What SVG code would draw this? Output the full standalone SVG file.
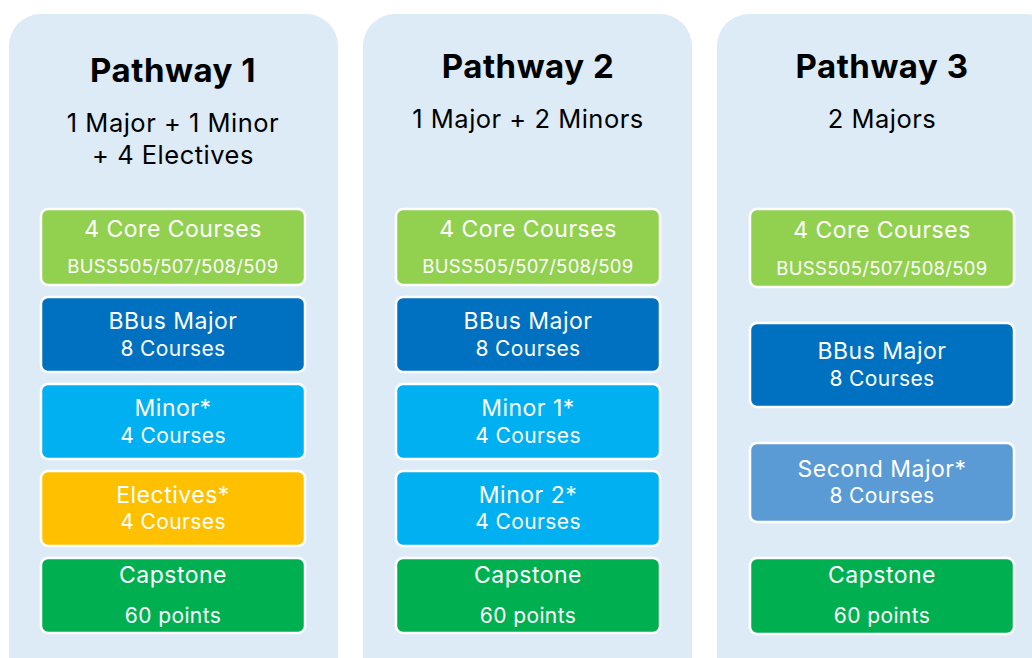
<svg xmlns="http://www.w3.org/2000/svg" width="1032" height="658" viewBox="0 0 1032 658">
<style>
.panel{fill:#DDEBF7}
.box{stroke:#FFFFFF;stroke-width:2.5}
.t{font-family:Inter,"Open Sans","Liberation Sans",sans-serif;text-anchor:middle}
.title{font-size:33px;font-weight:700;fill:#000;letter-spacing:0.5px}
.sub{font-size:25.5px;fill:#000;letter-spacing:0.5px}
.l1{font-size:23px;fill:#FFF;letter-spacing:0.5px}
.l2{font-size:21px;fill:#FFF;letter-spacing:0.4px}
.code{font-size:18.5px;fill:#FFF;letter-spacing:0.3px}
.core{fill:#92D050}.major{fill:#0070C0}.minor{fill:#00B0F0}.elec{fill:#FFC000}.cap{fill:#00B050}.second{fill:#5B9BD5}
</style>
<rect width="1032" height="658" fill="#FFFFFF"/>
<g id="pathway1">
<rect class="panel" x="9" y="14" width="329" height="700" rx="32"/>
<text class="t title" x="173" y="82">Pathway 1</text>
<text class="t sub" x="173" y="132">1 Major + 1 Minor</text>
<text class="t sub" x="173" y="164">+ 4 Electives</text>
</g>
<g id="p1-core"><rect class="box core" x="41" y="209" width="264" height="76" rx="7"/><text class="t l1" x="173" y="237">4 Core Courses</text><text class="t code" x="173" y="273">BUSS505/507/508/509</text></g>
<g id="p1-major"><rect class="box major" x="41" y="297" width="264" height="75" rx="7"/><text class="t l1" x="173" y="329">BBus Major</text><text class="t l2" x="173" y="356">8 Courses</text></g>
<g id="p1-minor"><rect class="box minor" x="41" y="384" width="264" height="75" rx="7"/><text class="t l1" x="173" y="416">Minor*</text><text class="t l2" x="173" y="443">4 Courses</text></g>
<g id="p1-electives"><rect class="box elec" x="41" y="471" width="264" height="75" rx="7"/><text class="t l1" x="173" y="503">Electives*</text><text class="t l2" x="173" y="529">4 Courses</text></g>
<g id="p1-capstone"><rect class="box cap" x="41" y="558" width="264" height="75" rx="7"/><text class="t l1" x="173" y="583">Capstone</text><text class="t l2" x="173" y="623">60 points</text></g>

<g id="pathway2">
<rect class="panel" x="363" y="14" width="329" height="700" rx="32"/>
<text class="t title" x="528" y="78">Pathway 2</text>
<text class="t sub" x="528" y="128">1 Major + 2 Minors</text>
</g>
<g id="p2-core"><rect class="box core" x="396" y="209" width="264" height="76" rx="7"/><text class="t l1" x="528" y="237">4 Core Courses</text><text class="t code" x="528" y="273">BUSS505/507/508/509</text></g>
<g id="p2-major"><rect class="box major" x="396" y="297" width="264" height="75" rx="7"/><text class="t l1" x="528" y="329">BBus Major</text><text class="t l2" x="528" y="356">8 Courses</text></g>
<g id="p2-minor1"><rect class="box minor" x="396" y="384" width="264" height="75" rx="7"/><text class="t l1" x="528" y="416">Minor 1*</text><text class="t l2" x="528" y="443">4 Courses</text></g>
<g id="p2-minor2"><rect class="box minor" x="396" y="471" width="264" height="75" rx="7"/><text class="t l1" x="528" y="503">Minor 2*</text><text class="t l2" x="528" y="529">4 Courses</text></g>
<g id="p2-capstone"><rect class="box cap" x="396" y="558" width="264" height="75" rx="7"/><text class="t l1" x="528" y="583">Capstone</text><text class="t l2" x="528" y="623">60 points</text></g>

<g id="pathway3">
<rect class="panel" x="717" y="14" width="340" height="700" rx="32"/>
<text class="t title" x="882" y="78">Pathway 3</text>
<text class="t sub" x="882" y="128">2 Majors</text>
</g>
<g id="p3-core"><rect class="box core" x="750" y="209" width="264" height="78" rx="7"/><text class="t l1" x="882" y="238">4 Core Courses</text><text class="t code" x="882" y="275">BUSS505/507/508/509</text></g>
<g id="p3-major"><rect class="box major" x="750" y="323" width="264" height="84" rx="7"/><text class="t l1" x="882" y="359">BBus Major</text><text class="t l2" x="882" y="386">8 Courses</text></g>
<g id="p3-second"><rect class="box second" x="750" y="443" width="264" height="79" rx="7"/><text class="t l1" x="882" y="477">Second Major*</text><text class="t l2" x="882" y="503">8 Courses</text></g>
<g id="p3-capstone"><rect class="box cap" x="750" y="558" width="264" height="76" rx="7"/><text class="t l1" x="882" y="583">Capstone</text><text class="t l2" x="882" y="623">60 points</text></g>
<g id="connectors"/>
</svg>
